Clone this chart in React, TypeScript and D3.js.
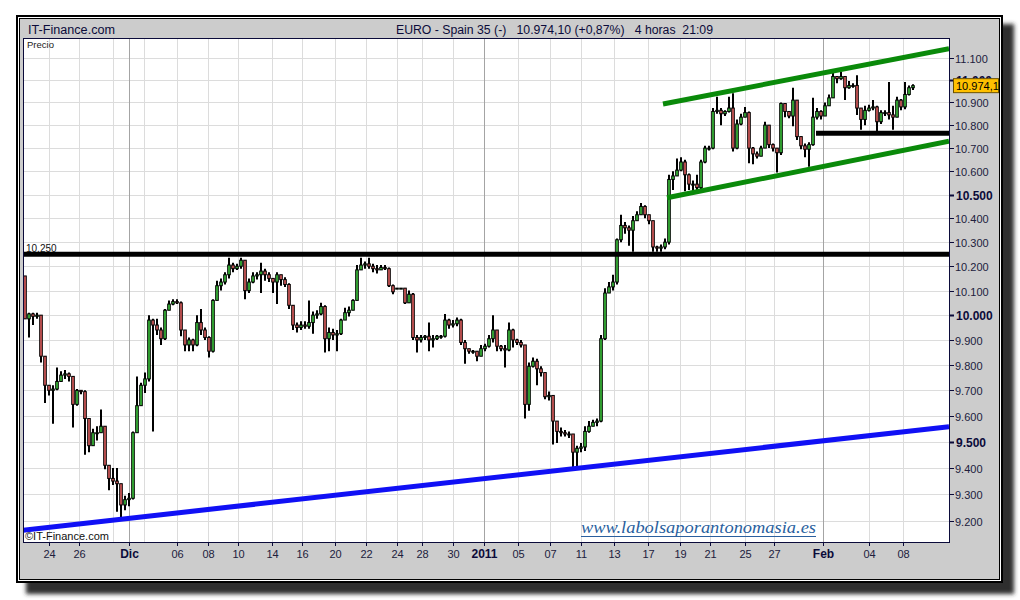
import React from 'react';
import * as d3 from 'd3';

// ---- OHLC data (4h bars, EURO - Spain 35) ----
const opens = [
  10160, 9985, 10005, 9995, 10000, 9835, 9720, 9700, 9705, 9735,
  9760, 9765, 9755, 9645, 9700, 9695, 9590, 9485, 9535, 9535,
  9560, 9410, 9360, 9350, 9340, 9260, 9280, 9285, 9535, 9640,
  9720, 9745, 9980, 9960, 9940, 9905, 10020, 10045, 10055, 10050,
  9940, 9880, 9900, 9880, 9970, 9940, 9910, 9855, 10060, 10120,
  10135, 10165, 10205, 10190, 10200, 10225, 10100, 10135, 10160, 10165,
  10180, 10165, 10150, 10135, 10165, 10145, 10125, 10040, 9960, 9950,
  9960, 9955, 9970, 10000, 10005, 10035, 9905, 9930, 9920, 9925,
  9980, 10010, 10020, 10060, 10185, 10205, 10210, 10200, 10190, 10185,
  10195, 10190, 10120, 10110, 10110, 10110, 10050, 10085, 9910, 9900,
  9910, 9915, 9900, 9905, 9915, 9915, 9980, 9960, 9965, 9980,
  9890, 9865, 9855, 9855, 9835, 9865, 9875, 9905, 9940, 9875,
  9865, 9860, 9940, 9900, 9890, 9880, 9645, 9795, 9815, 9785,
  9770, 9675, 9680, 9580, 9540, 9535, 9530, 9530, 9460, 9475,
  9480, 9540, 9560, 9575, 9580, 9905, 10090, 10115, 10135, 10310,
  10370, 10360, 10350, 10390, 10415, 10450, 10415, 10390, 10280, 10275,
  10280, 10300, 10565, 10580, 10605, 10640, 10585, 10545, 10545, 10530,
  10640, 10700, 10700, 10860, 10865, 10850, 10860, 10875, 10700, 10805,
  10835, 10855, 10700, 10675, 10665, 10700, 10800, 10715, 10700, 10680,
  10895, 10860, 10840, 10910, 10750, 10710, 10695, 10715, 10835, 10860,
  10840, 10885, 10920, 11015, 11005, 11015, 10965, 10975, 10975, 10875,
  10825, 10865, 10875, 10880, 10815, 10855, 10855, 10845, 10835, 10910,
  10880, 10935, 10965,
];
const highs = [
  10160, 10010, 10010, 10010, 9995, 9835, 9720, 9720, 9790, 9775,
  9780, 9770, 9755, 9705, 9700, 9700, 9590, 9550, 9560, 9625,
  9560, 9390, 9400, 9400, 9340, 9295, 9305, 9540, 9755, 9730,
  9770, 10000, 9985, 9985, 9950, 10025, 10060, 10065, 10065, 10055,
  9940, 9910, 9905, 10000, 10025, 9950, 9915, 10065, 10140, 10150,
  10175, 10235, 10215, 10210, 10235, 10225, 10150, 10175, 10175, 10215,
  10190, 10175, 10150, 10175, 10165, 10155, 10130, 10040, 9970, 9975,
  9975, 10060, 10015, 10020, 10050, 10040, 9950, 9945, 9940, 9985,
  10030, 10035, 10065, 10205, 10235, 10220, 10235, 10210, 10205, 10205,
  10205, 10195, 10125, 10110, 10110, 10095, 10100, 10090, 9920, 9920,
  9920, 9970, 9920, 9920, 9920, 10005, 9985, 9980, 9990, 9985,
  9900, 9860, 9860, 9850, 9880, 9885, 9920, 10000, 9940, 9880,
  9880, 9970, 9945, 9905, 9900, 9880, 9810, 9830, 9825, 9795,
  9770, 9695, 9680, 9580, 9555, 9545, 9540, 9530, 9485, 9495,
  9560, 9580, 9585, 9590, 9920, 10110, 10135, 10165, 10315, 10415,
  10385, 10370, 10410, 10430, 10465, 10455, 10415, 10390, 10285, 10290,
  10315, 10585, 10600, 10655, 10660, 10650, 10590, 10560, 10585, 10650,
  10710, 10710, 10875, 10925, 10875, 10865, 10925, 10940, 10825, 10850,
  10880, 10860, 10705, 10685, 10710, 10815, 10800, 10720, 10700, 10900,
  10895, 10860, 10965, 10910, 10750, 10720, 10725, 10920, 10875, 10865,
  10900, 10935, 11030, 11015, 11035, 11015, 10995, 10985, 11020, 10875,
  10885, 10890, 10910, 10885, 10865, 10865, 10990, 10885, 10925, 10915,
  10990, 10975, 10980,
];
const lows = [
  9985, 9910, 9960, 9985, 9810, 9650, 9680, 9570, 9700, 9735,
  9745, 9735, 9555, 9640, 9685, 9450, 9460, 9490, 9505, 9535,
  9395, 9315, 9335, 9235, 9215, 9240, 9255, 9280, 9540, 9640,
  9690, 9735, 9540, 9920, 9880, 9900, 10020, 10040, 10045, 9915,
  9855, 9855, 9855, 9875, 9920, 9900, 9830, 9850, 10060, 10100,
  10125, 10150, 10175, 10185, 10190, 10065, 10090, 10130, 10145, 10090,
  10140, 10135, 10090, 10045, 10120, 10115, 10025, 9940, 9930, 9940,
  9945, 9945, 9925, 9985, 10000, 9850, 9855, 9900, 9855, 9920,
  9980, 9995, 10020, 10060, 10185, 10190, 10190, 10175, 10170, 10185,
  10185, 10115, 10085, 10110, 10110, 10045, 10050, 9900, 9850, 9890,
  9900, 9855, 9870, 9900, 9905, 9910, 9945, 9950, 9955, 9880,
  9805, 9845, 9845, 9815, 9835, 9855, 9870, 9890, 9855, 9855,
  9790, 9855, 9870, 9880, 9870, 9590, 9620, 9790, 9720, 9755,
  9665, 9660, 9490, 9495, 9520, 9520, 9515, 9400, 9400, 9460,
  9465, 9535, 9560, 9560, 9575, 9900, 10090, 10100, 10125, 10300,
  10335, 10285, 10260, 10395, 10415, 10400, 10375, 10260, 10260, 10260,
  10270, 10290, 10520, 10580, 10600, 10515, 10520, 10515, 10515, 10520,
  10635, 10690, 10695, 10850, 10800, 10840, 10855, 10685, 10695, 10800,
  10835, 10635, 10630, 10655, 10665, 10700, 10700, 10685, 10595, 10670,
  10835, 10830, 10795, 10735, 10695, 10660, 10620, 10710, 10825, 10825,
  10845, 10885, 10920, 10985, 11000, 10910, 10960, 10965, 10845, 10780,
  10800, 10860, 10865, 10770, 10805, 10840, 10825, 10780, 10835, 10865,
  10870, 10930, 10955,
];
const closes = [
  9985, 10005, 9995, 10000, 9835, 9720, 9700, 9705, 9735, 9760,
  9765, 9755, 9645, 9700, 9695, 9590, 9485, 9535, 9535, 9560,
  9410, 9360, 9350, 9340, 9260, 9280, 9285, 9535, 9640, 9720,
  9745, 9980, 9960, 9940, 9905, 10020, 10045, 10055, 10050, 9940,
  9880, 9900, 9880, 9970, 9940, 9910, 9855, 10060, 10120, 10135,
  10165, 10205, 10190, 10200, 10225, 10100, 10135, 10160, 10165, 10180,
  10165, 10150, 10135, 10165, 10145, 10125, 10040, 9960, 9950, 9960,
  9955, 9970, 10000, 10005, 10035, 9905, 9930, 9920, 9925, 9980,
  10010, 10020, 10060, 10185, 10205, 10210, 10200, 10190, 10185, 10195,
  10190, 10120, 10095, 10110, 10110, 10050, 10085, 9910, 9900, 9910,
  9915, 9900, 9905, 9915, 9915, 9980, 9960, 9965, 9980, 9890,
  9865, 9855, 9855, 9835, 9865, 9875, 9905, 9940, 9875, 9865,
  9860, 9940, 9900, 9890, 9880, 9645, 9795, 9815, 9785, 9770,
  9675, 9680, 9580, 9540, 9535, 9530, 9530, 9460, 9475, 9480,
  9540, 9560, 9575, 9580, 9905, 10090, 10115, 10135, 10310, 10370,
  10360, 10350, 10390, 10415, 10450, 10415, 10390, 10280, 10275, 10280,
  10300, 10565, 10580, 10605, 10640, 10585, 10545, 10545, 10530, 10640,
  10700, 10700, 10860, 10865, 10850, 10860, 10875, 10700, 10805, 10835,
  10855, 10700, 10675, 10665, 10700, 10800, 10715, 10700, 10680, 10895,
  10860, 10840, 10910, 10750, 10710, 10695, 10715, 10835, 10860, 10840,
  10885, 10920, 11015, 11005, 11015, 10965, 10975, 10975, 10875, 10825,
  10865, 10875, 10880, 10815, 10855, 10855, 10845, 10835, 10910, 10880,
  10935, 10965, 10974.1,
];

// ---- axes ----
const yTickValues = [9200, 9300, 9400, 9500, 9600, 9700, 9800, 9900, 10000, 10100,
  10200, 10300, 10400, 10500, 10600, 10700, 10800, 10900, 11000, 11100];
const xTickLabels = ['24', '26', 'Dic', '06', '08', '10', '14', '16', '20', '22', '24', '28', '30',
  '2011', '05', '07', '11', '13', '17', '19', '21', '25', '27', 'Feb', '04', '08'];
const xTickBars = [5.9, 13.6, 26, 37.9, 45.7, 53.3, 61.7, 69.3, 77.5, 85.25, 92.9, 99.3, 107,
  114.8, 123.2, 131.2, 139, 147.25, 155.75, 163.75, 171.25, 180, 187.25, 199.4, 210.9, 219.4];
const xTickMajor = ['Dic', '2011', 'Feb'];
const xExtraGridBars = [22, 29.75];

// ---- drawn study lines (bar index, price) ----
const resistanceLevel = 10250;
const supportLine: [number, number][] = [[-0.5, 9166], [231, 9558]];
const channelUpper: [number, number][] = [[159.5, 10893], [231, 11140]];
const channelLower: [number, number][] = [[160.5, 10487], [231, 10730]];
const shortSupport: [number, number][] = [[197.75, 10765], [231, 10765]];
const lastPriceLabel = '10.974,1';
const lastPrice = 10974.1;

const fmt = (v: number) => d3.format(',')(v).replace(/,/g, '.');

export default function App() {
  const plotL = 23, plotR = 949, plotT = 38, plotB = 542;
  const n = closes.length;
  const x = d3.scaleLinear().domain([0, n - 1]).range([25, 913]);
  const y = d3.scaleLog().domain([9200, 11100]).range([521, 57.5]);
  const font = "'Liberation Sans', Arial, Helvetica, sans-serif";
  const narrow = "'Liberation Sans Narrow', 'Arial Narrow', 'Liberation Sans', Arial, sans-serif";
  const navy = '#0b0b3a';
  const line = d3.line<[number, number]>().x(d => x(d[0])).y(d => y(d[1]));
  const crisp = (v: number) => Math.round(v) + 0.5;
  const boxTop = y(lastPrice) - 7;

  const candles = closes.map((c, i) => {
    const o = opens[i];
    const hi = Math.max(highs[i], o, c);
    const lo = Math.min(lows[i], o, c);
    const cx = Math.round(x(i));
    const yo = y(o), yc = y(c);
    const top = Math.min(yo, yc);
    const h = Math.max(1, Math.abs(yo - yc));
    const up = c >= o;
    return (
      <g key={i}>
        <line x1={cx} x2={cx} y1={y(hi)} y2={y(lo)} stroke="#000" strokeWidth={2} />
        <rect x={cx - 1.3} y={top} width={2.6} height={h} fill={up ? '#3cc43c' : '#e06060'} stroke="#000" strokeWidth={1} />
      </g>
    );
  });

  return (
    <svg width={1020} height={600} style={{ position: 'absolute', left: 0, top: 0 }}>
      <defs>
        <filter id="shadow" x="-5%" y="-5%" width="110%" height="110%">
          <feGaussianBlur stdDeviation="2" />
        </filter>
        <clipPath id="plotClip">
          <rect x={plotL} y={plotT} width={plotR - plotL} height={plotB - plotT} />
        </clipPath>
        <clipPath id="aboveBox">
          <rect x={950} y={0} width={70} height={boxTop} />
        </clipPath>
      </defs>
      <rect width={1020} height={600} fill="#ffffff" />
      {/* drop shadow */}
      <rect x={26} y={24} width={988} height={570} fill="#2e2e2e" filter="url(#shadow)" />
      {/* frame */}
      <rect x={17} y={16} width={985} height={566} fill="#ffffff" stroke="#000" strokeWidth={2} />
      <rect x={19.5} y={18.5} width={980} height={561} fill="#cccccc" stroke="#000" strokeWidth={1} />

      {/* title bar */}
      <text x={28} y={34} fontFamily={narrow} fontSize={12.5} fill={navy} textLength={87} lengthAdjust="spacingAndGlyphs">IT-Finance.com</text>
      <text x={396} y={34} fontFamily={narrow} fontSize={12.5} fill={navy} textLength={317} lengthAdjust="spacingAndGlyphs" style={{ whiteSpace: 'pre' }}>
        {'EURO - Spain 35 (-)   10.974,10 (+0,87%)   4 horas  21:09'}
      </text>

      {/* plot area */}
      <rect x={plotL + 0.5} y={plotT + 0.5} width={plotR - plotL} height={plotB - plotT} fill="#ffffff" />

      <g clipPath="url(#plotClip)">
        {yTickValues.map(v => (
          <line key={'hg' + v} x1={plotL} x2={plotR} y1={crisp(y(v))} y2={crisp(y(v))} stroke="#dcdcdc" strokeWidth={1} />
        ))}
        {xExtraGridBars.map(b => (
          <line key={'xg' + b} x1={crisp(x(b))} x2={crisp(x(b))} y1={plotT} y2={plotB} stroke="#dcdcdc" strokeWidth={1} />
        ))}
        {xTickBars.map((b, i) => (
          <line key={'vg' + i} x1={crisp(x(b))} x2={crisp(x(b))} y1={plotT} y2={plotB}
            stroke={xTickMajor.includes(xTickLabels[i]) ? '#a4a4a4' : '#dcdcdc'} strokeWidth={1} />
        ))}

        {candles}

        {/* study lines */}
        <line x1={plotL} x2={plotR} y1={y(resistanceLevel)} y2={y(resistanceLevel)} stroke="#000" strokeWidth={5} />
        <path d={line(shortSupport) || ''} stroke="#000" strokeWidth={5} fill="none" />
        <path d={line(supportLine) || ''} stroke="#1010f5" strokeWidth={5} fill="none" />
        <path d={line(channelUpper) || ''} stroke="#0a8a0a" strokeWidth={5} fill="none" />
        <path d={line(channelLower) || ''} stroke="#0a8a0a" strokeWidth={5} fill="none" />
      </g>

      {/* plot border */}
      <rect x={plotL + 0.5} y={plotT + 0.5} width={plotR - plotL} height={plotB - plotT} fill="none" stroke={navy} strokeWidth={1} />

      {/* texts inside plot */}
      <text x={27} y={48} fontFamily={font} fontSize={9.5} fill="#222">Precio</text>
      <text x={26} y={251.5} fontFamily={font} fontSize={10} fill="#111">{fmt(resistanceLevel)}</text>
      <text x={25} y={540} fontFamily={font} fontSize={11} fill="#111">©IT-Finance.com</text>
      <text x={581} y={533} fontFamily="'Liberation Serif', 'DejaVu Serif', serif" fontStyle="italic" fontSize={17}
        fill="#2a5f9e" textLength={235} lengthAdjust="spacingAndGlyphs">www.labolsaporantonomasia.es</text>
      <line x1={581} x2={816} y1={536.5} y2={536.5} stroke="#2a5f9e" strokeWidth={1} />

      {/* y axis */}
      {yTickValues.map(v => {
        const bold = v % 500 === 0;
        const yy = crisp(y(v));
        const hidden = Math.abs(y(v) - y(lastPrice)) < 8;
        return (
          <g key={'yt' + v}>
            <line x1={plotR + 1} x2={plotR + 5} y1={yy} y2={yy} stroke={navy} strokeWidth={bold ? 2 : 1} />
            <text x={bold ? 956 : 955} y={yy + 4.5} fontFamily={font} fontSize={bold ? 12 : 11}
              fontWeight={bold ? 'bold' : 'normal'} fill={bold ? navy : '#20203c'}
              clipPath={hidden ? 'url(#aboveBox)' : undefined}>{fmt(v)}</text>
          </g>
        );
      })}
      {/* last price box */}
      <rect x={953.5} y={boxTop} width={45} height={14} fill="#ffc000" stroke="#6a5000" strokeWidth={1} />
      <text x={956} y={y(lastPrice) + 4} fontFamily={font} fontSize={11} fill="#000">{lastPriceLabel}</text>

      {/* x axis */}
      {xTickBars.map((b, i) => {
        const major = xTickMajor.includes(xTickLabels[i]);
        const xx = crisp(x(b));
        return (
          <g key={'xt' + i}>
            <line x1={xx} x2={xx} y1={plotB} y2={plotB + 4} stroke={navy} strokeWidth={1} />
            <text x={xx} y={558} textAnchor="middle" fontFamily={font} fontSize={major ? 12 : 11}
              fontWeight={major ? 'bold' : 'normal'} fill={major ? navy : '#20203c'}>{xTickLabels[i]}</text>
          </g>
        );
      })}
    </svg>
  );
}
